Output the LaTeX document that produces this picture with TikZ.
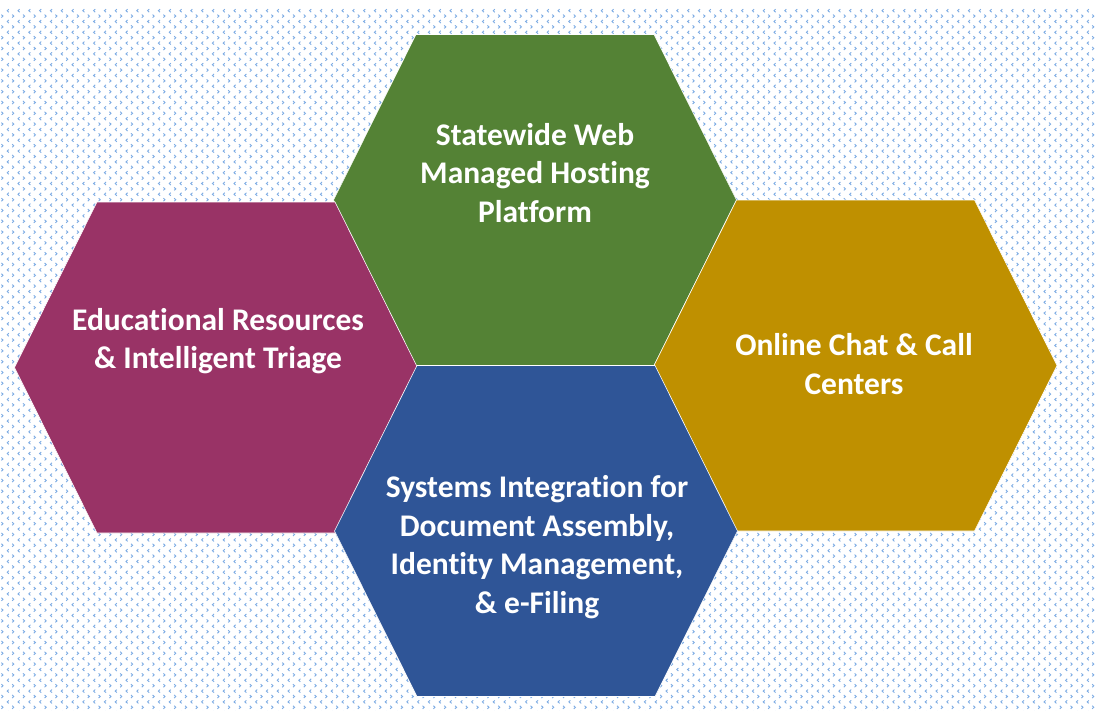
\documentclass[tikz,border=0pt]{standalone}
\usepackage{fontspec}
\setmainfont{Carlito}[RawFeature=-liga]
\usepackage{tikz}
\usetikzlibrary{patterns}
\definecolor{hexGreen}{RGB}{84,130,53}
\definecolor{hexPlum}{RGB}{153,51,102}
\definecolor{hexGold}{RGB}{191,144,0}
\definecolor{hexBlue}{RGB}{47,85,151}
\definecolor{dotBlue}{RGB}{125,172,228}
\pgfdeclarepatternformonly{chevrons}{\pgfqpoint{-1pt}{-1pt}}{\pgfqpoint{11.8pt}{11.8pt}}{\pgfqpoint{10.8pt}{10.8pt}}{
   \pgfsetlinewidth{0.9pt}
   \pgfpathmoveto{\pgfqpoint{1.4pt}{1.2pt}}
   \pgfpathlineto{\pgfqpoint{3.0pt}{2.7pt}}
   \pgfpathlineto{\pgfqpoint{1.4pt}{4.2pt}}
   \pgfpathmoveto{\pgfqpoint{8.8pt}{6.6pt}}
   \pgfpathlineto{\pgfqpoint{7.2pt}{8.1pt}}
   \pgfpathlineto{\pgfqpoint{8.8pt}{9.6pt}}
   \pgfusepath{stroke}}
\tikzstyle{hexagon} = [draw=white, line width=0.6pt]
\tikzstyle{hexlabel} = [text=white, align=center, font=\bfseries\fontsize{31.5}{38.5}\selectfont]
\tikzstyle{backdrop} = [pattern=chevrons, pattern color=dotBlue]
\newcommand{\hexshape}[2]{\fill [hexagon, fill=#2, shift={(#1)}] (-201.5,0) -- (-119,-165.5) -- (119,-165.5) -- (201.5,0) -- (119,165.5) -- (-119,165.5) -- cycle;}

\begin{document}
\begin{tikzpicture}[x=1pt, y=-1pt]
	\useasboundingbox (0,0) rectangle (1095,710);
% Background
	\fill [white] (0,0) rectangle (1095,710);
	\fill [backdrop] (0,8) rectangle (1095,710);
% Centres
	\coordinate (hosting) at (535,200);
	\coordinate (education) at (216,367.5);
	\coordinate (chat) at (855.5,365.5);
	\coordinate (integration) at (536,531);
% Hexagons
	\hexshape{hosting}{hexGreen}
	\hexshape{education}{hexPlum}
	\hexshape{chat}{hexGold}
	\hexshape{integration}{hexBlue}
% Labels
	\node [hexlabel] (hostingText) at (535,173) {Statewide Web\\Managed Hosting\\Platform};
	\node [hexlabel] (educationText) at (218,341) {Educational Resources\\\& Intelligent Triage};
	\node [hexlabel] (chatText) at (854,364) {Online Chat \& Call\\Centers};
	\node [hexlabel] (integrationText) at (537,547) {Systems Integration for\\Document Assembly,\\Identity Management,\\\& e-Filing};
\end{tikzpicture}
\end{document}
